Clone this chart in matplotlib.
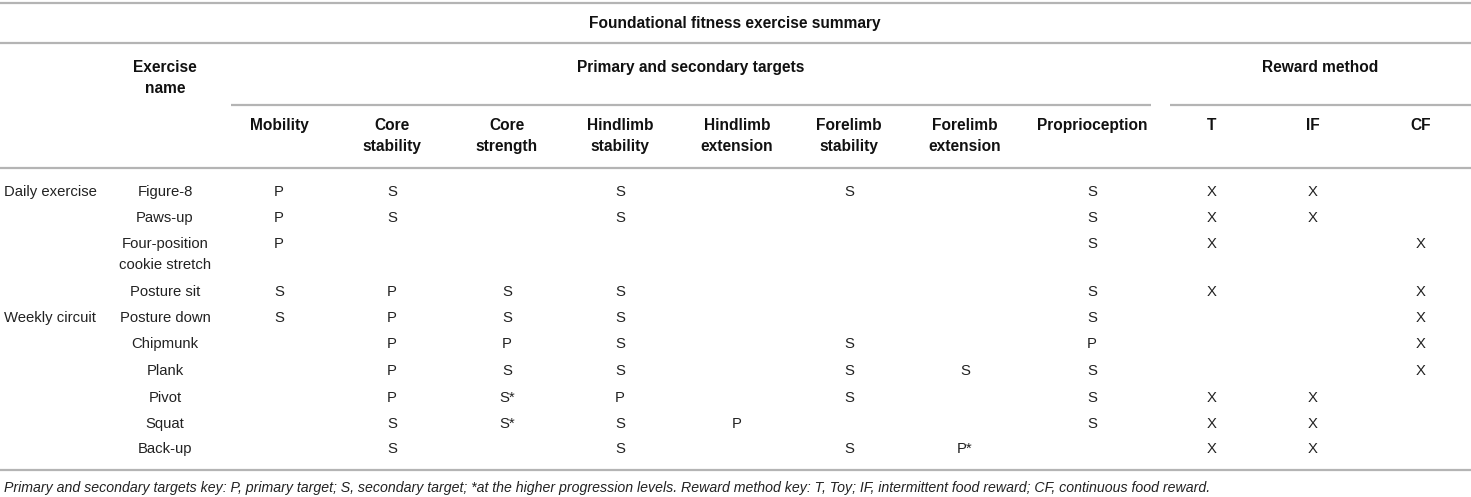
"""
Foundational fitness exercise summary table, drawn with matplotlib text and lines.
"""

import matplotlib
matplotlib.use("Agg")
import matplotlib.pyplot as plt  # pylint: disable=import-error

TITLE = "Foundational fitness exercise summary"
GROUP_TARGETS = "Primary and secondary targets"
GROUP_REWARD = "Reward method"
NAME_HEADER = "Exercise\nname"

columns = ["Mobility", "Core\nstability", "Core\nstrength", "Hindlimb\nstability",
           "Hindlimb\nextension", "Forelimb\nstability", "Forelimb\nextension",
           "Proprioception", "T", "IF", "CF"]

exercises = ["Figure-8", "Paws-up", "Four-position\ncookie stretch", "Posture sit",
             "Posture down", "Chipmunk", "Plank", "Pivot", "Squat", "Back-up"]

# group label shown beside the exercise at the same index
groups = {0: "Daily exercise", 4: "Weekly circuit"}

cells = [
    ["P", "S", "", "S", "", "S", "", "S", "X", "X", ""],
    ["P", "S", "", "S", "", "", "", "S", "X", "X", ""],
    ["P", "", "", "", "", "", "", "S", "X", "", "X"],
    ["S", "P", "S", "S", "", "", "", "S", "X", "", "X"],
    ["S", "P", "S", "S", "", "", "", "S", "", "", "X"],
    ["", "P", "P", "S", "", "S", "", "P", "", "", "X"],
    ["", "P", "S", "S", "", "S", "S", "S", "", "", "X"],
    ["", "P", "S*", "P", "", "S", "", "S", "X", "X", ""],
    ["", "S", "S*", "S", "P", "", "", "S", "X", "X", ""],
    ["", "S", "", "S", "", "S", "P*", "", "X", "X", ""],
]

FOOTNOTE = ("Primary and secondary targets key: P, primary target; S, secondary target; "
            "*at the higher progression levels. Reward method key: T, Toy; IF, "
            "intermittent food reward; CF, continuous food reward.")

# layout in pixels
W, H = 1471, 497
COL_X = [279, 392, 507, 620, 737, 849, 965, 1092, 1212, 1313, 1421]
NAME_X = 165
ROW_Y = [191, 217, 243, 291, 317, 343, 370, 397, 423, 448]
LINE_H = 21
CAP = 5  # baseline offset from visual centre
RULE = "#b4b4b4"


def put(ax, x, y, s, **kw):
    """Draw multi-line text line by line, y is centre of the first line."""
    for i, line in enumerate(s.split("\n")):
        ax.text(x, y + CAP + i * LINE_H, line, va="baseline", **kw)


def main():
    plt.rcParams['font.family'] = ['Liberation Sans', 'DejaVu Sans']
    fig = plt.figure(figsize=(W / 100, H / 100), dpi=100)
    ax = fig.add_axes([0, 0, 1, 1])
    ax.set_xlim(0, W)
    ax.set_ylim(H, 0)
    ax.axis("off")

    fs = 10.7
    bold = dict(fontsize=11.2, fontweight="bold", ha="center", color="#111111")
    norm = dict(fontsize=fs, ha="center", color="#222222")

    # rules
    for y in (3, 43, 168, 470):
        ax.plot([0, W], [y, y], color=RULE, lw=1.6, solid_capstyle="butt")
    ax.plot([231, 1151], [105, 105], color=RULE, lw=1.6, solid_capstyle="butt")
    ax.plot([1170, W], [105, 105], color=RULE, lw=1.6, solid_capstyle="butt")

    put(ax, 735, 23, TITLE, **bold)
    put(ax, NAME_X, 67, NAME_HEADER, **bold)
    put(ax, 691, 67, GROUP_TARGETS, **bold)
    put(ax, 1320, 67, GROUP_REWARD, **bold)
    for x, col in zip(COL_X, columns):
        put(ax, x, 125, col, **bold)

    for r, (y, name, row) in enumerate(zip(ROW_Y, exercises, cells)):
        if r in groups:
            put(ax, 4, y, groups[r], fontsize=fs, ha="left", color="#222222")
        put(ax, NAME_X, y, name, **norm)
        for x, val in zip(COL_X, row):
            if val:
                put(ax, x, y, val, **norm)

    put(ax, 4, 487, FOOTNOTE, fontsize=10.2, ha="left", style="italic", color="#222222")

    fig.savefig("out.png", dpi=100)


if __name__ == "__main__":
    main()
